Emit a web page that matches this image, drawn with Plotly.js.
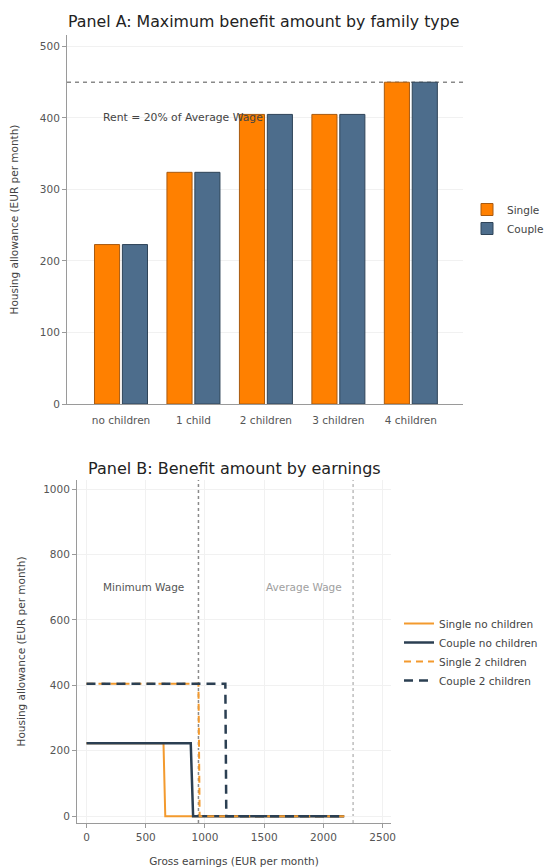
<!DOCTYPE html>
<html>
<head>
<meta charset="utf-8">
<script src="https://cdn.plot.ly/plotly-3.0.1.min.js"></script>
<style>
  html, body { margin: 0; padding: 0; background: #ffffff; }
  #chart { width: 552px; height: 867px; }
</style>
</head>
<body>
<div id="chart"></div>
<script>
// Panel A: maximum housing allowance by family type (EUR per month)
const familyTypes = ['no children', '1 child', '2 children', '3 children', '4 children'];
const maxSingle = [223, 324, 405, 405, 450];
const maxCouple = [223, 324, 405, 405, 450];

// Reference wages (EUR per month)
const minimumWage = 945;
const averageWage = 2250;
const rentShare = 0.20;

// Panel B: benefit amount by gross earnings
const earnSingleNoKids = [0, 650, 665, 2175];
const benSingleNoKids = [223, 223, 0, 0];
const earnCoupleNoKids = [0, 880, 900, 2175];
const benCoupleNoKids = [223, 223, 0, 0];
const earnSingle2Kids = [0, 945, 955, 2175];
const benSingle2Kids = [405, 405, 0, 0];
const earnCouple2Kids = [0, 1172, 1180, 2175];
const benCouple2Kids = [405, 405, 0, 0];

const FONT = 'DejaVu Sans, Verdana, sans-serif';
const ORANGE = '#ff8000';
const SLATE = '#4d6d8c';
const LINE_ORANGE = '#f39a2e';
const LINE_DARK = '#2b3f52';
const AXIS = '#9a9a9a';
const GRID = '#f1f1f1';

const traces = [
  {
    type: 'bar', name: 'Single', x: familyTypes, y: maxSingle,
    xaxis: 'x', yaxis: 'y', legend: 'legend',
    marker: { color: ORANGE, line: { color: '#a85a10', width: 1 } },
    hoverinfo: 'skip'
  },
  {
    type: 'bar', name: 'Couple', x: familyTypes, y: maxCouple,
    xaxis: 'x', yaxis: 'y', legend: 'legend',
    marker: { color: SLATE, line: { color: '#2f4458', width: 1 } },
    hoverinfo: 'skip'
  },
  {
    type: 'scatter', mode: 'lines', name: 'Single no children',
    x: earnSingleNoKids, y: benSingleNoKids, xaxis: 'x2', yaxis: 'y2', legend: 'legend2',
    line: { color: LINE_ORANGE, width: 2 }
  },
  {
    type: 'scatter', mode: 'lines', name: 'Couple no children',
    x: earnCoupleNoKids, y: benCoupleNoKids, xaxis: 'x2', yaxis: 'y2', legend: 'legend2',
    line: { color: LINE_DARK, width: 2.5 }
  },
  {
    type: 'scatter', mode: 'lines', name: 'Single 2 children',
    x: earnSingle2Kids, y: benSingle2Kids, xaxis: 'x2', yaxis: 'y2', legend: 'legend2',
    line: { color: LINE_ORANGE, width: 2, dash: '7px,5px' }
  },
  {
    type: 'scatter', mode: 'lines', name: 'Couple 2 children',
    x: earnCouple2Kids, y: benCouple2Kids, xaxis: 'x2', yaxis: 'y2', legend: 'legend2',
    line: { color: LINE_DARK, width: 2.5, dash: '9px,6px' }
  }
];

const tickFont = { family: FONT, size: 10.5, color: '#555555' };
const axisTitleFont = { family: FONT, size: 10.5, color: '#444444' };

const layout = {
  width: 552, height: 867,
  margin: { l: 0, r: 0, t: 0, b: 0 },
  paper_bgcolor: '#ffffff', plot_bgcolor: '#ffffff',
  font: { family: FONT, color: '#333333' },
  showlegend: true,
  barmode: 'group', bargap: 0.23, bargroupgap: 0.1,
  xaxis: {
    domain: [0.1214, 0.8388], anchor: 'y',
    type: 'category', range: [-0.745, 4.72],
    showline: true, linecolor: AXIS, linewidth: 1,
    ticks: 'outside', ticklen: 6, tickcolor: 'rgba(0,0,0,0)',
    showgrid: false, zeroline: false,
    tickfont: tickFont, fixedrange: true
  },
  yaxis: {
    domain: [0.5340, 0.9596], anchor: 'x',
    range: [0, 516], tickvals: [0, 100, 200, 300, 400, 500],
    showline: true, linecolor: AXIS, linewidth: 1,
    ticks: 'outside', ticklen: 4, tickcolor: AXIS,
    showgrid: true, gridcolor: GRID, zeroline: false,
    tickfont: tickFont, fixedrange: true,
    title: { text: 'Housing allowance (EUR per month)', font: axisTitleFont, standoff: 19 }
  },
  xaxis2: {
    domain: [0.1395, 0.7083], anchor: 'y2',
    range: [-80, 2570], tickvals: [0, 500, 1000, 1500, 2000, 2500],
    showline: true, linecolor: AXIS, linewidth: 1,
    ticks: 'outside', ticklen: 4, tickcolor: AXIS,
    showgrid: true, gridcolor: GRID, zeroline: false,
    tickfont: tickFont, fixedrange: true,
    title: { text: 'Gross earnings (EUR per month)', font: axisTitleFont, standoff: 16 }
  },
  yaxis2: {
    domain: [0.0507, 0.4464], anchor: 'x2',
    range: [-21, 1028], tickvals: [0, 200, 400, 600, 800, 1000],
    showline: true, linecolor: AXIS, linewidth: 1,
    ticks: 'outside', ticklen: 4, tickcolor: AXIS,
    showgrid: true, gridcolor: GRID, zeroline: false,
    tickfont: tickFont, fixedrange: true,
    title: { text: 'Housing allowance (EUR per month)', font: axisTitleFont, standoff: 15 }
  },
  legend: {
    x: 467 / 552, y: 1 - 195 / 867, xanchor: 'left', yanchor: 'top',
    font: { family: FONT, size: 10.5, color: '#444444' },
    bgcolor: 'rgba(0,0,0,0)', tracegroupgap: 0
  },
  legend2: {
    x: 399 / 552, y: 1 - 609 / 867, xanchor: 'left', yanchor: 'top',
    font: { family: FONT, size: 10.5, color: '#444444' },
    bgcolor: 'rgba(0,0,0,0)', tracegroupgap: 0
  },
  shapes: [
    // Rent ceiling line across panel A
    {
      type: 'line', xref: 'x domain', yref: 'y', x0: 0, x1: 1,
      y0: rentShare * averageWage, y1: rentShare * averageWage,
      line: { color: '#8a8a8a', width: 1.5, dash: '4px,4px' }, layer: 'below'
    },
    // Minimum wage marker in panel B
    {
      type: 'line', xref: 'x2', yref: 'y2 domain', x0: minimumWage, x1: minimumWage, y0: 0, y1: 1,
      line: { color: '#8a8a8a', width: 1.5, dash: 'dot' }, layer: 'below'
    },
    // Average wage marker in panel B
    {
      type: 'line', xref: 'x2', yref: 'y2 domain', x0: averageWage, x1: averageWage, y0: 0, y1: 1,
      line: { color: '#9a9a9a', width: 1, dash: '3px,3px' }, layer: 'below'
    }
  ],
  annotations: [
    {
      text: 'Panel A: Maximum benefit amount by family type',
      xref: 'paper', yref: 'paper', x: 66 / 552, y: 1 - 22 / 867,
      xanchor: 'left', yanchor: 'middle', showarrow: false,
      font: { family: FONT, size: 15.8, color: '#222222' }
    },
    {
      text: 'Panel B: Benefit amount by earnings',
      xref: 'paper', yref: 'paper', x: 86 / 552, y: 1 - 468 / 867,
      xanchor: 'left', yanchor: 'middle', showarrow: false,
      font: { family: FONT, size: 16, color: '#222222' }
    },
    {
      text: 'Rent = 20% of Average Wage',
      xref: 'x', yref: 'y', x: 0.86, y: 400,
      xanchor: 'center', yanchor: 'middle', showarrow: false,
      font: { family: FONT, size: 10.8, color: '#444444' }
    },
    {
      text: 'Minimum Wage',
      xref: 'x2', yref: 'y2', x: 485, y: 700,
      xanchor: 'center', yanchor: 'middle', showarrow: false,
      font: { family: FONT, size: 10.5, color: '#555555' }
    },
    {
      text: 'Average Wage',
      xref: 'x2', yref: 'y2', x: 1835, y: 700,
      xanchor: 'center', yanchor: 'middle', showarrow: false,
      font: { family: FONT, size: 10.5, color: '#a0a0a0' }
    }
  ]
};

Plotly.newPlot('chart', traces, layout, { staticPlot: true, displayModeBar: false });
</script>
</body>
</html>
